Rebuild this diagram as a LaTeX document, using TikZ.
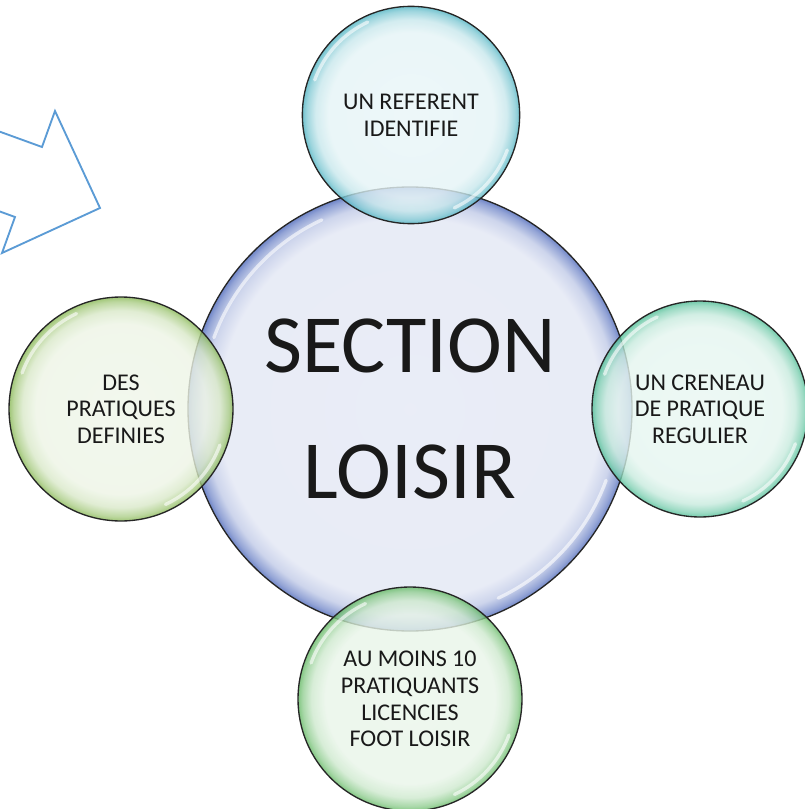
\documentclass[tikz,border=0pt]{standalone}
\usepackage{fontspec}
\setmainfont{Carlito}
\usepackage{tikz}
\usetikzlibrary{calc}
\definecolor{arrowblue}{RGB}{91,155,213}
\definecolor{clrmid}{RGB}{112,134,200}
\definecolor{clrtop}{RGB}{80,180,195}
\definecolor{clrright}{RGB}{80,190,150}
\definecolor{clrbottom}{RGB}{100,185,100}
\definecolor{clrleft}{RGB}{136,184,84}
\pgfdeclareradialshading[bubc]{bubble}{\pgfpoint{0bp}{0bp}}{%
  color(0bp)=(bubc!13!white); color(19bp)=(bubc!15!white);
  color(22bp)=(bubc!32!white); color(24bp)=(bubc!70!white);
  color(25bp)=(bubc); color(50bp)=(bubc)}
\pgfdeclareradialshading[bubc]{bubblethin}{\pgfpoint{0bp}{0bp}}{%
  color(0bp)=(bubc!15!white); color(21.5bp)=(bubc!16!white);
  color(23.3bp)=(bubc!35!white); color(24.5bp)=(bubc!75!white);
  color(25bp)=(bubc); color(50bp)=(bubc)}
\tikzset{
  bubble/.style={circle, draw=black!85, line width=1pt, inner sep=0pt,
    /utils/exec={\colorlet{bubc}{#1}}, shade, shading=bubble,
    fill opacity=0.8, text opacity=1, text=black!90, align=center,
    font=\fontsize{18}{20}\selectfont},
  glint/.style={white, line width=2.5pt, opacity=0.6, line cap=round},
}

\begin{document}
\begin{tikzpicture}[x=0.75pt, y=-0.75pt]

    \useasboundingbox (0,0) rectangle (805,809);

    % arrow at the top left
    \begin{scope}
    \clip (0,0) rectangle (805,809);
    \draw[arrowblue, line width=1.4pt, line join=miter]
        (-71,106) -- (42,147) -- (55,111) -- (100,208) -- (2,253) -- (15,217) -- (-98,176);
    \end{scope}

    \node[bubble=clrmid, shading=bubblethin, minimum size=333pt, fill opacity=1,
          font=\fontsize{62}{95}\selectfont] (mid) at (410,409) {SECTION\\LOISIR};

    \node[bubble=clrtop, minimum size=163pt] (top) at (411,115) {UN REFERENT\\IDENTIFIE};
    \node[bubble=clrright, minimum size=162pt] (right) at (700,409) {UN CRENEAU\\DE PRATIQUE\\REGULIER};
    \node[bubble=clrbottom, minimum size=168pt] (bottom) at (410,699) {AU MOINS 10\\PRATIQUANTS\\LICENCIES\\FOOT LOISIR};
    \node[bubble=clrleft, minimum size=168pt] (left) at (121,409) {DES\\PRATIQUES\\DEFINIES};

    \foreach \n/\r in {mid/222, top/109, right/108, bottom/112, left/112} {
        \draw[glint] (\n.center) ++(200:{0.94*\r}) arc[start angle=200, end angle=245, radius={0.94*\r}];
        \draw[glint] (\n.center) ++(20:{0.94*\r}) arc[start angle=20, end angle=65, radius={0.94*\r}];
    }

\end{tikzpicture}
\end{document}
